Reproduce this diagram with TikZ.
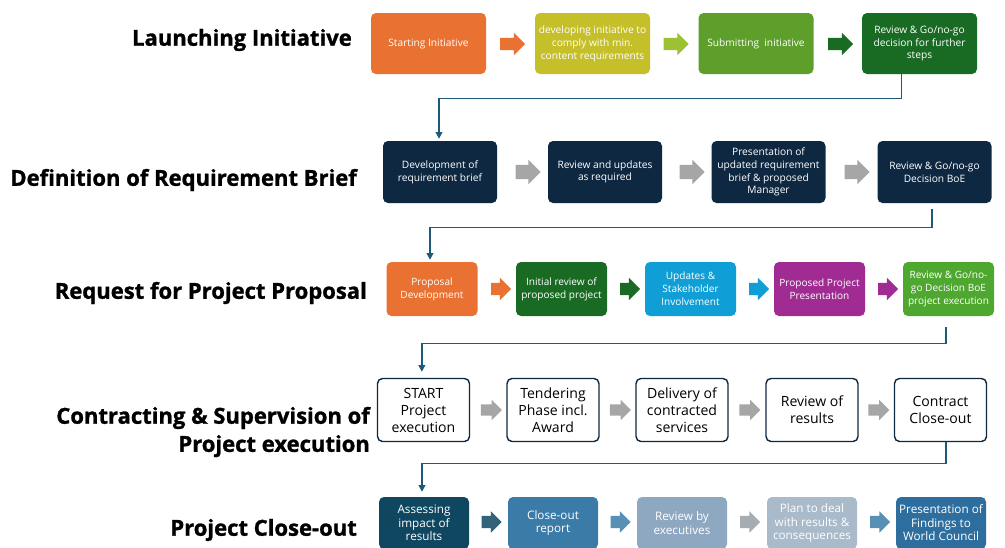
\documentclass[tikz,border=0pt]{standalone}
\usepackage{fontspec}
\setmainfont{Open Sans}
\newfontfamily\headfont{Open Sans}[BoldFeatures={FakeBold=1.2}]
\usetikzlibrary{shapes.arrows,arrows.meta}

\definecolor{c_orange}{HTML}{E97132}
\definecolor{c_olive}{HTML}{C5BF2A}
\definecolor{c_lime}{HTML}{9CC133}
\definecolor{c_green}{HTML}{5E9E2A}
\definecolor{c_dkgreen}{HTML}{196B24}
\definecolor{c_navy}{HTML}{0E2841}
\definecolor{c_gray}{HTML}{A6A6A6}
\definecolor{c_blue}{HTML}{0F9ED5}
\definecolor{c_purple}{HTML}{A02B93}
\definecolor{c_leaf}{HTML}{4EA72E}
\definecolor{c_teal}{HTML}{0F4761}
\definecolor{c_steel}{HTML}{3B7BA8}
\definecolor{c_mist}{HTML}{8EA8C2}
\definecolor{c_fog}{HTML}{A9BACB}
\definecolor{c_sea}{HTML}{2D6E9E}
\definecolor{c_link}{HTML}{1D5A7A}

\tikzset{
    box_style/.style={rectangle, rounded corners=0.15cm, fill=#1, text=white, align=center, inner sep=1pt},
    r1_style/.style={box_style=#1, minimum width=3.45cm, minimum height=1.83cm, font=\fontsize{8.7}{11}\selectfont},
    r2_style/.style={box_style=c_navy, minimum width=3.42cm, minimum height=1.86cm, font=\fontsize{8.7}{10.8}\selectfont},
    r3_style/.style={box_style=#1, minimum width=2.73cm, minimum height=1.62cm, font=\fontsize{8.6}{11}\selectfont},
    r4_style/.style={rectangle, rounded corners=0.15cm, draw=c_navy, line width=1.2pt, fill=white, align=center,
        minimum width=2.76cm, minimum height=1.89cm, inner sep=1pt, font=\fontsize{12}{14.5}\selectfont},
    r5_style/.style={box_style=#1, minimum width=2.7cm, minimum height=1.56cm, font=\fontsize{10}{11.5}\selectfont},
    blk_style/.style={single arrow, fill=#1, draw=none, inner xsep=0pt},
    a1_style/.style={blk_style=#1, minimum height=0.75cm, inner ysep=0.18cm, single arrow head extend=0.15cm},
    a2_style/.style={blk_style=c_gray, minimum height=0.75cm, inner ysep=0.21cm, single arrow head extend=0.15cm},
    a3_style/.style={blk_style=#1, minimum height=0.6cm, inner ysep=0.18cm, single arrow head extend=0.15cm},
    a4_style/.style={blk_style=c_gray, minimum height=0.63cm, inner ysep=0.165cm, single arrow head extend=0.135cm},
    a5_style/.style={blk_style=#1, minimum height=0.6cm, inner ysep=0.18cm, single arrow head extend=0.135cm},
    link_style/.style={draw=c_link, line width=1.2pt, -{Triangle[length=0.2cm, width=0.2cm]}},
    label_style/.style={anchor=east, align=right, font=\headfont\fontsize{18.8}{24}\selectfont\bfseries}
}

\begin{document}
\begin{tikzpicture}[x=0.03cm, y=-0.03cm]
    \useasboundingbox[fill=white] (0,0) rectangle (1005,547);

    % phase titles
    \node[label_style] (t1) at (356,40) {Launching Initiative};
    \node[label_style] (t2) at (361,180) {Definition of Requirement Brief};
    \node[label_style] (t3) at (371,293) {Request for Project Proposal};
    \node[label_style] (t4) at (374,432) {Contracting \& Supervision of\\Project execution};
    \node[label_style] (t5) at (361,530) {Project Close-out};

    % launching initiative
    \node[r1_style=c_orange] (start1) at (428.5,43.5) {Starting Initiative};
    \node[r1_style=c_olive] (dev1) at (592.5,43.5) {developing initiative to\\comply with min.\\content requirements};
    \node[r1_style=c_green] (sub1) at (756,43.5) {Submitting\ \ initiative};
    \node[r1_style=c_dkgreen] (rev1) at (919.5,43.5) {Review \& Go/no-go\\decision for further\\steps};
    \node[a1_style=c_orange] (s1a) at (509.5,44) {};
    \node[a1_style=c_lime] (s1b) at (673,44) {};
    \node[a1_style=c_dkgreen] (s1c) at (837.5,44) {};

    % requirement brief
    \node[r2_style] (dev2) at (440,172) {Development of\\requirement brief};
    \node[r2_style] (upd2) at (605,172) {Review and updates\\as required};
    \node[r2_style] (pres2) at (768.5,172) {Presentation of\\updated requirement\\brief \& proposed\\Manager};
    \node[r2_style] (rev2) at (934.5,172) {Review \& Go/no-go\\Decision BoE};
    \node[a2_style] (s2a) at (524.5,172) {};
    \node[a2_style] (s2b) at (688.5,172) {};
    \node[a2_style] (s2c) at (853.5,172) {};

    % project proposal
    \node[r3_style=c_orange] (prop3) at (432,289) {Proposal\\Development};
    \node[r3_style=c_dkgreen] (init3) at (561.5,289) {Initial review of\\proposed project};
    \node[r3_style=c_blue] (upd3) at (690.5,289) {Updates \&\\Stakeholder\\Involvement};
    \node[r3_style=c_purple] (pres3) at (819.5,289) {Proposed Project\\Presentation};
    \node[r3_style=c_leaf] (rev3) at (948.5,289) {Review \& Go/no-\\go Decision BoE\\project execution};
    \node[a3_style=c_orange] (s3a) at (498,289) {};
    \node[a3_style=c_dkgreen] (s3b) at (627,289) {};
    \node[a3_style=c_blue] (s3c) at (756,289) {};
    \node[a3_style=c_purple] (s3d) at (885,289) {};

    % contracting and supervision
    \node[r4_style] (go4) at (423.5,410) {START\\Project\\execution};
    \node[r4_style] (tend4) at (553,410) {Tendering\\Phase incl.\\Award};
    \node[r4_style] (deliv4) at (682,410) {Delivery of\\contracted\\services};
    \node[r4_style] (res4) at (812,410) {Review of\\results};
    \node[r4_style] (close4) at (940.5,410) {Contract\\Close-out};
    \node[a4_style] (s4a) at (488.5,410) {};
    \node[a4_style] (s4b) at (617.5,410) {};
    \node[a4_style] (s4c) at (747,410) {};
    \node[a4_style] (s4d) at (876,410) {};

    % close-out
    \node[r5_style=c_teal] (imp5) at (424,523) {Assessing\\impact of\\results};
    \node[r5_style=c_steel] (rep5) at (553,523) {Close-out\\report};
    \node[r5_style=c_mist] (exe5) at (682,523) {Review by\\executives};
    \node[r5_style=c_fog] (plan5) at (812,523) {Plan to deal\\with results \&\\consequences};
    \node[r5_style=c_sea] (wc5) at (941,523) {Presentation of\\Findings to\\World Council};
    \node[a5_style=c_teal!85!white] (s5a) at (488.5,522) {};
    \node[a5_style=c_steel!85!white] (s5b) at (617.5,522) {};
    \node[a5_style=c_gray!70!c_fog] (s5c) at (747,522) {};
    \node[a5_style=c_steel!85!white] (s5d) at (877,522) {};

    % links between phases
    \draw[link_style] ([xshift=-0.54cm]rev1.south) -- ++(0,24) -| ([xshift=-0.03cm, yshift=0.06cm]dev2.north);
    \draw[link_style, shorten >=0.06cm] ([xshift=-0.07cm, yshift=-0.18cm]rev2.south) -- ++(0,18) -| ([xshift=-0.06cm]prop3.north);
    \draw[link_style, shorten >=0.18cm] ([xshift=-0.07cm, yshift=-0.33cm]rev3.south) -- ++(0,16) -| ([xshift=-0.05cm]go4.north);
    \draw[link_style, shorten >=0.15cm] ([xshift=0.16cm]close4.south) -- ++(0,21) -| ([xshift=-0.06cm]imp5.north);
\end{tikzpicture}
\end{document}
